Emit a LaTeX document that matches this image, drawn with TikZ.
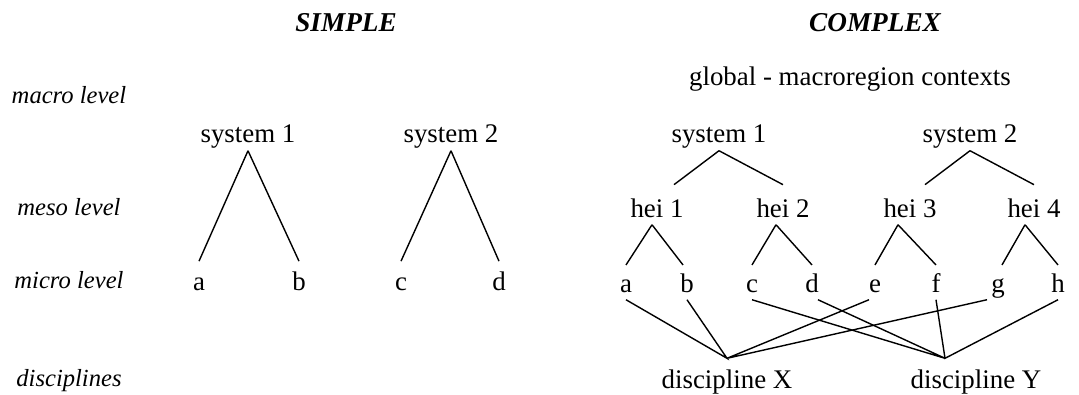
\documentclass[tikz,border=0pt]{standalone}
\usepackage{fontspec}
\setmainfont{Liberation Serif}
\begin{document}
\begin{tikzpicture}[x=0.02cm,y=-0.02cm,line width=.8pt,
  txt/.style={font=\fontsize{15.3}{18}\selectfont,anchor=base,inner sep=0pt,text height=18pt,text depth=4pt},
  lowleaf/.style={text height=15pt},
  simleaf/.style={text height=16pt},
  discnode/.style={text height=16.5pt},
  lvl/.style={font=\fontsize{14}{16}\selectfont\itshape,anchor=base},
  hdr/.style={font=\fontsize{15.5}{18}\selectfont\bfseries\itshape,anchor=base}]
\useasboundingbox (0,0) rectangle (1079,395);
\foreach \y/\lab/\nm in {104/macro level/macro,215/meso level/meso,288/micro level/micro,386/disciplines/disc}
  \node[lvl] (\nm) at (69,\y) {\lab};
\node[hdr] (simple) at (346,32) {SIMPLE};
\node[hdr] (complex) at (875,32) {COMPLEX};

% simple
\node[txt] (s1) at (248,143) {system 1};
\node[txt] (s2) at (451,143) {system 2};
\foreach \x/\lab in {199/a,299/b,401/c,499/d}
  \node[txt,simleaf] (s\lab) at (\x,290) {\lab};
\draw (s1.south) -- (sa.north) (s1.south) -- (sb.north);
\draw (s2.south) -- (sc.north) (s2.south) -- (sd.north);

% complex
\node[txt] (global) at (850,86) {global - macroregion contexts};
\node[txt] (c1) at (719,143) {system 1};
\node[txt] (c2) at (970,143) {system 2};
\foreach \x/\n in {657/1,783/2,910/3,1034/4}
  \node[txt] (hei\n) at (\x,217) {hei \n};
\foreach \x/\lab in {626/a,687/b,752/c,812/d,875/e,936/f,998/g,1058/h}
  \node[txt,lowleaf] (\lab) at (\x,292) {\lab};
\node[txt,discnode] (dX) at (727,388) {discipline X};
\node[txt,discnode] (dY) at (976,388) {discipline Y};

\draw (c1.south) -- ([shift={(17,0)}]hei1.north) (c1.south) -- (hei2.north);
\draw (c2.south) -- ([shift={(15,0)}]hei3.north) (c2.south) -- (hei4.north);
\draw ([shift={(-5,0)}]hei1.south) -- (a.north) ([shift={(-5,0)}]hei1.south) -- ([shift={(-4,0)}]b.north);
\draw ([shift={(-7,0)}]hei2.south) -- (c.north) ([shift={(-7,0)}]hei2.south) -- (d.north);
\draw ([shift={(-12,0)}]hei3.south) -- (e.north) ([shift={(-12,0)}]hei3.south) -- (f.north);
\draw ([shift={(-9,0)}]hei4.south) -- ([shift={(4,0)}]g.north) ([shift={(-9,0)}]hei4.south) -- (h.north);

\draw (a.south) -- (dX.north) -- (b.south);
\draw ([shift={(-6,0)}]e.south) -- (dX.north) -- ([shift={(-11,0)}]g.south);
\draw (c.south) -- ([shift={(-31,0)}]dY.north) -- ([shift={(6,0)}]d.south);
\draw (f.south) -- ([shift={(-31,0)}]dY.north) -- (h.south);
\end{tikzpicture}
\end{document}
